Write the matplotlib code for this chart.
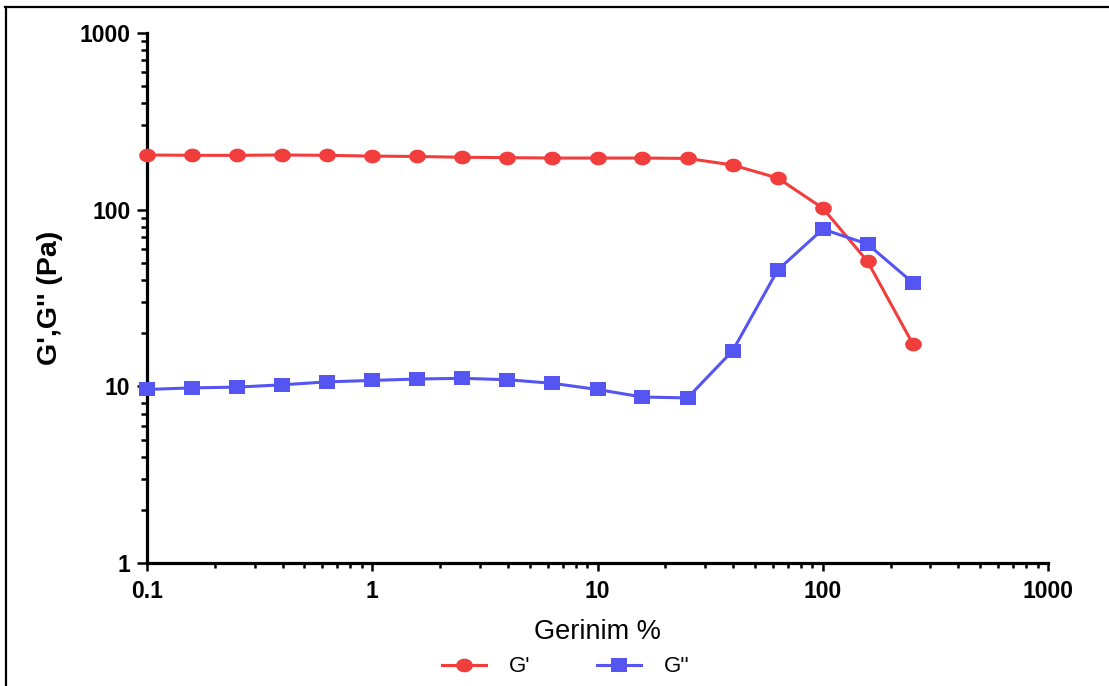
import matplotlib
matplotlib.use("Agg")
import numpy as np
import matplotlib.pyplot as plt
from matplotlib.lines import Line2D
from matplotlib.path import Path

plt.rcParams['font.family'] = ['Liberation Sans', 'DejaVu Sans']

# Strain sweep (%) and moduli (Pa)
strain = [0.1, 0.158, 0.251, 0.398, 0.631, 1.0, 1.58, 2.51, 3.98, 6.31,
          10.0, 15.8, 25.1, 39.8, 63.1, 100.0, 158.0, 251.0]
g_storage = [204, 203, 203, 204, 203, 201, 200, 198, 197, 196,
             196, 196, 195, 179, 151, 102, 51, 17.4]
g_loss = [9.6, 9.8, 9.9, 10.2, 10.6, 10.8, 11.0, 11.1, 10.9, 10.4,
          9.6, 8.7, 8.6, 15.9, 45.5, 77.6, 63.9, 38.6]

x_ticks = [0.1, 1, 10, 100, 1000]
x_ticklabels = ['0.1', '1', '10', '100', '1000']
y_ticks = [1, 10, 100, 1000]
y_ticklabels = ['1', '10', '100', '1000']

red = '#F23D3D'
blue = '#5555F2'

# Slightly wide markers: an ellipse and a flat rectangle
theta = np.linspace(0, 2 * np.pi, 64)
ellipse = Path(np.column_stack([np.cos(theta), 0.82 * np.sin(theta)]), closed=True)
rect = Path([(-1, -0.85), (1, -0.85), (1, 0.85), (-1, 0.85), (-1, -0.85)], closed=True)

fig = plt.figure(figsize=(11.09, 6.86), dpi=100)
ax = fig.add_axes([0.1326, 0.1793, 0.8124, 0.7726])

ax.plot(strain, g_storage, color=red, lw=2.2, marker=ellipse, ms=12,
        markeredgewidth=0, label="G'", clip_on=False, zorder=3)
ax.plot(strain, g_loss, color=blue, lw=2.2, marker=rect, ms=11.5,
        markeredgewidth=0, label="G''", clip_on=False, zorder=3)

ax.set_xscale('log')
ax.set_yscale('log')
ax.set_xlim(0.1, 1000)
ax.set_ylim(1, 1000)
ax.set_xticks(x_ticks)
ax.set_xticklabels(x_ticklabels)
ax.set_yticks(y_ticks)
ax.set_yticklabels(y_ticklabels)

for s in ['top', 'right']:
    ax.spines[s].set_visible(False)
for s in ['left', 'bottom']:
    ax.spines[s].set_linewidth(2.3)

ax.tick_params(axis='y', which='major', length=7, width=1.8, labelsize=16.5, pad=5)
ax.tick_params(axis='y', which='minor', length=4, width=1.8)
ax.tick_params(axis='x', which='major', length=6, width=1.8, labelsize=16.5, pad=6)
ax.tick_params(axis='x', which='minor', length=3.5, width=1.8)
for lab in ax.get_xticklabels() + ax.get_yticklabels():
    lab.set_fontweight('bold')

ax.set_xlabel('Gerinim %', fontsize=19.5, labelpad=12)
ax.set_ylabel("G',G'' (Pa)", fontsize=20.5, fontweight='bold', labelpad=12)

fig.legend(handles=ax.get_lines(), labels=["G'", "G''"], loc='center',
           bbox_to_anchor=(0.51, 0.028), ncol=2, frameon=False, fontsize=16,
           handlelength=2.0, handletextpad=1.0, columnspacing=3.0)

# Frame lines along the top and left edges of the figure
fig.add_artist(Line2D([0.0045, 1.0], [0.9905, 0.9905], transform=fig.transFigure,
                      color='black', lw=1.6))
fig.add_artist(Line2D([0.0050, 0.0050], [0.0, 0.9905], transform=fig.transFigure,
                      color='black', lw=1.6))

fig.savefig('out.png', dpi=100, facecolor='white')
